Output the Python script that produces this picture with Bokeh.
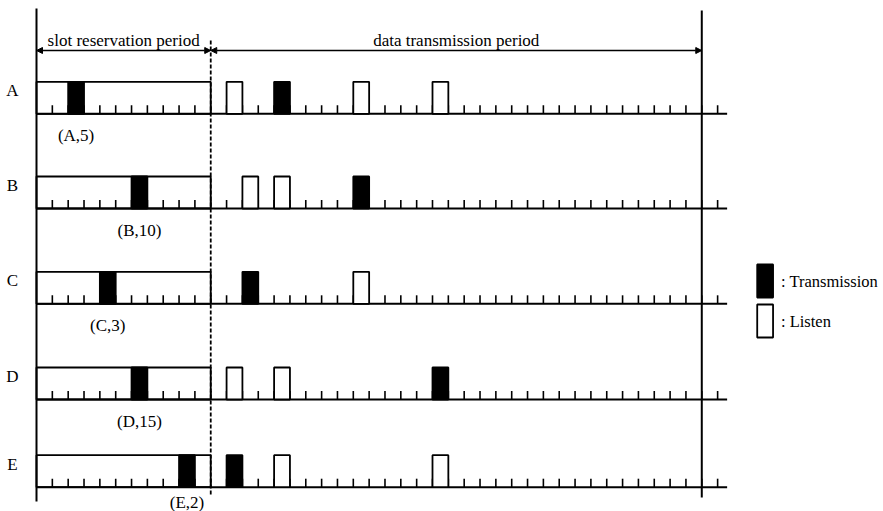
from bokeh.plotting import figure
from bokeh.models import Range1d, Arrow, NormalHead
from bokeh.core.properties import value
from bokeh.embed import file_html
from bokeh.resources import INLINE

# ---------------- data ----------------
rows = ["A", "B", "C", "D", "E"]
reserve_slot = [2, 6, 4, 6, 9]                      # slot chosen in the reservation period
reserve_labels = ["(A,5)", "(B,10)", "(C,3)", "(D,15)", "(E,2)"]
transmit_slots = [[15], [20], [13], [25], [12]]     # data period transmission slots
listen_slots = [[12, 20, 25], [13, 15], [20], [12, 15], [15, 25]]
reservation_len = 11                                # slots in reservation period
frame_end = 42                                      # end of data transmission period
last_tick = 43
period_titles = ["slot reservation period", "data transmission period"]
legend_labels = [": Transmission", ": Listen"]

# ---------------- layout ----------------
W, H = 883, 511
OFF = 0.0                      # page offset of the figure
PX0, SW = 36.0, 15.84          # page px of slot 0, px per slot
row_base = [113.3, 208.0, 303.3, 399.0, 486.7]
BOX_H, TICK_H = 32.0, 8.5
FONT = value("Liberation Serif")

p = figure(width=W, height=H, output_backend="svg", toolbar_location=None,
           x_range=Range1d((OFF - PX0) / SW, (OFF + W - PX0) / SW),
           y_range=Range1d(OFF + H, OFF),
           x_axis_type=None, y_axis_type=None, min_border=0)
p.grid.visible = False
p.outline_line_color = None
p.background_fill_color = "white"
p.border_fill_color = "white"

# vertical frame lines
p.segment(x0=[0, frame_end], y0=[8, 10], x1=[0, frame_end], y1=[501, 497],
          line_color="black", line_width=2)
p.segment(x0=[reservation_len], y0=[40], x1=[reservation_len], y1=[495],
          line_color="black", line_width=1.8, line_dash="4 2")

# period arrows
for xs, xe in [(0, reservation_len), (reservation_len, frame_end)]:
    p.add_layout(Arrow(x_start=xs, y_start=50, x_end=xe, y_end=50,
                       line_color="black", line_width=1.6,
                       start=NormalHead(size=6, fill_color="black", line_color="black"),
                       end=NormalHead(size=6, fill_color="black", line_color="black")))
p.text(x=[reservation_len / 2, (reservation_len + frame_end) / 2], y=[40, 40],
       text=period_titles, text_font=FONT, text_font_size="17px",
       text_align="center", text_baseline="alphabetic", text_color="black")

# rows
bx0, bx1, by = [], [], []                # baselines
tx, ty0, ty1 = [], [], []                # ticks
rq = dict(l=[], r=[], b=[], t=[])        # reservation boxes
bq = dict(l=[], r=[], b=[], t=[])        # black (transmission) boxes
wq = dict(l=[], r=[], b=[], t=[])        # white (listen) boxes
for i, r in enumerate(rows):
    yb = row_base[i]
    bx0.append(0); bx1.append(last_tick + 0.6); by.append(yb)
    for k in range(1, last_tick + 1):
        tx.append(k); ty0.append(yb); ty1.append(yb - TICK_H)
    rq["l"].append(0); rq["r"].append(reservation_len); rq["b"].append(yb); rq["t"].append(yb - BOX_H)
    for s in [reserve_slot[i]] + transmit_slots[i]:
        bq["l"].append(s); bq["r"].append(s + 1); bq["b"].append(yb); bq["t"].append(yb - BOX_H)
    for s in listen_slots[i]:
        wq["l"].append(s); wq["r"].append(s + 1); wq["b"].append(yb); wq["t"].append(yb - BOX_H)

p.segment(x0=bx0, y0=by, x1=bx1, y1=by, line_color="black", line_width=2)
p.segment(x0=tx, y0=ty0, x1=tx, y1=ty1, line_color="black", line_width=1.6)
p.quad(left=rq["l"], right=rq["r"], bottom=rq["b"], top=rq["t"],
       fill_color=None, line_color="black", line_width=1.8)
p.quad(left=wq["l"], right=wq["r"], bottom=wq["b"], top=wq["t"],
       fill_color="white", line_color="black", line_width=1.8)
p.quad(left=bq["l"], right=bq["r"], bottom=bq["b"], top=bq["t"],
       fill_color="black", line_color="black", line_width=1.8)

# row letters
p.text(x=[(12 - PX0) / SW] * len(rows), y=[b - 23 for b in row_base], text=rows,
       text_font=FONT, text_font_size="17px", text_align="center",
       text_baseline="middle", text_color="black")
# reservation labels
p.text(x=[s + 0.5 for s in reserve_slot], y=[min(b + 21.5, 502) for b in row_base],
       text=reserve_labels, text_font=FONT, text_font_size="17px",
       text_align="center", text_baseline="alphabetic", text_color="black")

# legend
leg_top = [264, 304]
p.quad(left=[45.5, 45.5], right=[46.5, 46.5], top=leg_top, bottom=[t + 33 for t in leg_top],
       fill_color=["black", "white"], line_color="black", line_width=1.8)
p.text(x=[47.0, 47.0], y=[t + 17 for t in leg_top], text=legend_labels,
       text_font=FONT, text_font_size="16.5px", text_align="left",
       text_baseline="middle", text_color="black")

open("out.html", "w").write(file_html(p, INLINE))
